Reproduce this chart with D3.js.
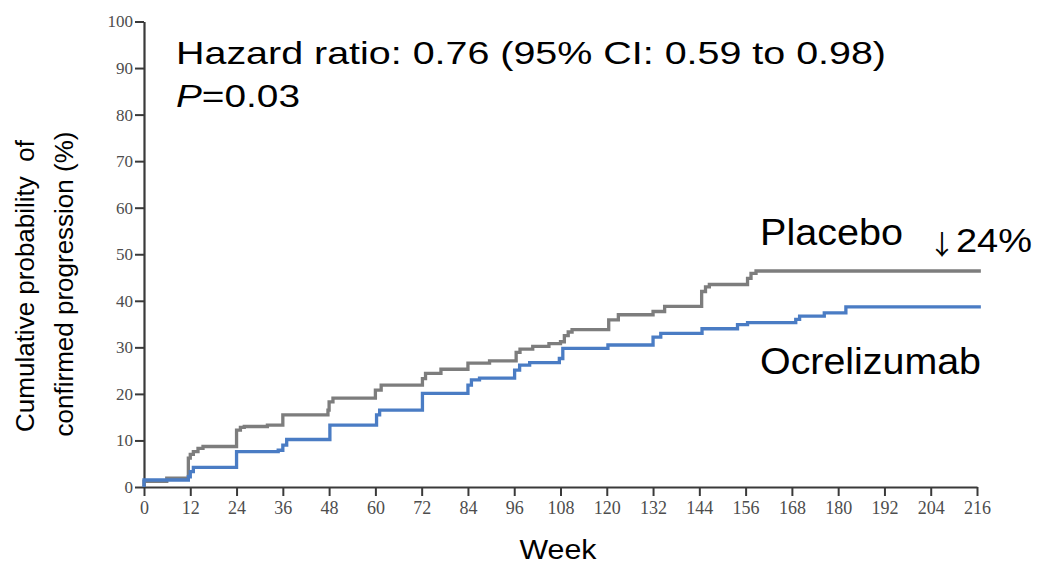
<!DOCTYPE html>
<html>
<head>
<meta charset="utf-8">
<script src="https://cdn.jsdelivr.net/npm/d3@7/dist/d3.min.js"></script>
<style>
  html, body { margin: 0; padding: 0; background: #fff; }
  svg { display: block; }
  .tick text { font-family: "Liberation Serif", "Times New Roman", serif; fill: #4d4d4d; }
  .lbl { font-family: "Liberation Sans", Arial, sans-serif; fill: #000; }
</style>
</head>
<body>
<svg id="chart" width="1040" height="564"></svg>
<script>
// Kaplan–Meier step curves: week of each step and cumulative probability (%) after it
const placeboWeeks  = [0, 0, 5.9, 11.5, 12, 12.8, 14, 15.3, 24, 25, 26, 32, 36, 47.7, 48, 49, 60, 61.5, 72.2, 73, 77, 84, 89.6, 96.5, 97.5, 100.8, 105, 108, 109, 110, 111, 120.5, 123, 132, 135, 144.6, 145.6, 146.6, 156.5, 157.4, 158.7, 217];
const placeboValues = [0, 1.2, 1.9, 6.2, 7.0, 7.6, 8.3, 8.7, 12.2, 12.8, 13.0, 13.3, 15.5, 16.5, 18.3, 19.1, 20.8, 21.9, 23.3, 24.4, 25.3, 26.6, 27.1, 28.9, 29.6, 30.2, 30.8, 31.2, 32.5, 33.3, 33.8, 35.9, 37.0, 37.7, 38.8, 42.0, 43.0, 43.5, 44.8, 45.9, 46.4, 46.4];

const ocreWeeks  = [0, 0, 11.5, 12, 12.8, 24, 34.8, 36, 37, 48.2, 60.3, 61.1, 72.2, 84, 84.9, 87, 96.1, 97.4, 100, 107.7, 108.6, 120.3, 132, 134, 144.7, 153.9, 156.5, 169, 170, 176.4, 182, 217];
const ocreValues = [0, 1.5, 2.2, 3.3, 4.2, 7.6, 7.9, 9.0, 10.2, 13.3, 15.5, 16.5, 20.1, 21.9, 23.0, 23.4, 25.1, 26.2, 26.7, 27.6, 29.8, 30.5, 32.2, 33.0, 34.0, 34.9, 35.3, 36.0, 36.7, 37.4, 38.7, 38.7];

const weekTicks = d3.range(0, 217, 12);
const pctTicks  = d3.range(0, 101, 10);

const svg = d3.select("#chart");

const x = d3.scaleLinear().domain([0, 216]).range([144, 977]);
const y = d3.scaleLinear().domain([0, 100]).range([487, 21.5]);

// Axes
const xAxis = svg.append("g")
  .attr("transform", `translate(0,${y(0)})`)
  .call(d3.axisBottom(x).tickValues(weekTicks).tickSize(9).tickSizeOuter(0).tickPadding(5));
xAxis.selectAll(".tick text").style("font-size", "18px");

const yAxis = svg.append("g")
  .attr("transform", `translate(${x(0)},0)`)
  .call(d3.axisLeft(y).tickValues(pctTicks).tickSize(9).tickSizeOuter(0).tickPadding(2));
yAxis.selectAll(".tick text").style("font-size", "17px");

svg.selectAll(".domain").attr("stroke", "#3a3a3a").attr("stroke-width", 2.2);
svg.selectAll(".tick line").attr("stroke", "#3a3a3a").attr("stroke-width", 2);

// Step curves
const step = d3.line()
  .x(d => x(d[0]))
  .y(d => y(d[1]))
  .curve(d3.curveStepAfter);

const series = [
  { weeks: placeboWeeks, values: placeboValues, color: "#7d7d7d" },
  { weeks: ocreWeeks,    values: ocreValues,    color: "#4a7cc4" }
];

svg.append("g").selectAll("path")
  .data(series)
  .join("path")
  .attr("fill", "none")
  .attr("stroke", d => d.color)
  .attr("stroke-width", 3.3)
  .attr("d", d => step(d.weeks.map((w, i) => [w, d.values[i]])));

// Annotations
svg.append("text").attr("class", "lbl")
  .attr("x", 176).attr("y", 64)
  .attr("font-size", 32)
  .attr("textLength", 710).attr("lengthAdjust", "spacingAndGlyphs")
  .text("Hazard ratio: 0.76 (95% CI: 0.59 to 0.98)");

const pv = svg.append("text").attr("class", "lbl")
  .attr("x", 176).attr("y", 107)
  .attr("font-size", 32)
  .attr("textLength", 124).attr("lengthAdjust", "spacingAndGlyphs");
pv.append("tspan").attr("font-style", "italic").text("P");
pv.append("tspan").text("=0.03");

svg.append("text").attr("class", "lbl")
  .attr("x", 760).attr("y", 245)
  .attr("font-size", 36)
  .attr("textLength", 143).attr("lengthAdjust", "spacingAndGlyphs")
  .text("Placebo");

svg.append("text")
  .attr("x", 942).attr("y", 255)
  .attr("text-anchor", "middle")
  .attr("font-family", "'Noto Sans CJK SC', 'DejaVu Sans', sans-serif")
  .attr("font-size", 27)
  .attr("fill", "#000")
  .text("↓");

svg.append("text").attr("class", "lbl")
  .attr("x", 956).attr("y", 252)
  .attr("font-size", 33)
  .attr("textLength", 76).attr("lengthAdjust", "spacingAndGlyphs")
  .text("24%");

svg.append("text").attr("class", "lbl")
  .attr("x", 760).attr("y", 374)
  .attr("font-size", 36)
  .attr("textLength", 221).attr("lengthAdjust", "spacingAndGlyphs")
  .text("Ocrelizumab");

svg.append("text").attr("class", "lbl")
  .attr("x", 558).attr("y", 559)
  .attr("text-anchor", "middle")
  .attr("font-size", 28)
  .attr("textLength", 77).attr("lengthAdjust", "spacingAndGlyphs")
  .text("Week");

// Y-axis title, two rotated lines
const yTitle = [
  { text: "Cumulative probability  of", x: 34, y: 286 },
  { text: "confirmed progression (%)", x: 73, y: 284 }
];
svg.append("g").selectAll("text")
  .data(yTitle)
  .join("text")
  .attr("class", "lbl")
  .attr("transform", d => `translate(${d.x},${d.y}) rotate(-90)`)
  .attr("text-anchor", "middle")
  .attr("font-size", 26)
  .style("white-space", "pre")
  .text(d => d.text);
</script>
</body>
</html>
